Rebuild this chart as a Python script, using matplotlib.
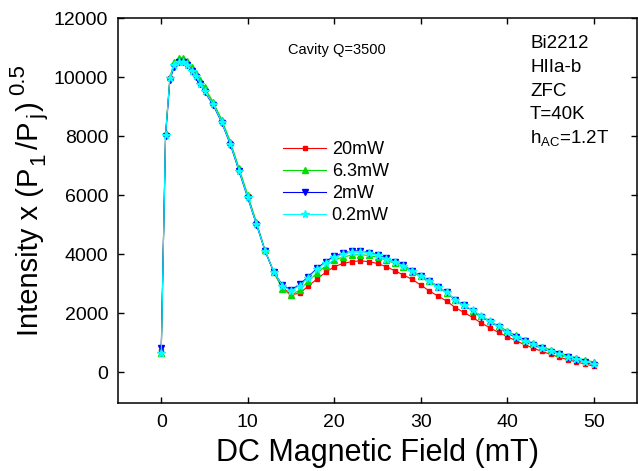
import matplotlib
matplotlib.use('Agg')
import matplotlib.pyplot as plt

plt.rcParams['font.family'] = ['Liberation Sans', 'DejaVu Sans']
plt.rcParams['mathtext.default'] = 'regular'

# field values (mT)
field = [0, 0.5, 1, 1.5, 2, 2.5, 3, 3.5, 4, 4.5, 5] + list(range(6, 51))

# intensity x (P1/Pj)^0.5 for each microwave power
p20 = [700, 8050, 9950, 10400, 10550, 10550, 10450, 10250, 10050, 9800, 9550,
       9100, 8480, 7750, 6850, 5950, 5050, 4120, 3380, 2870, 2620,
       2670, 2915, 3150, 3380, 3570, 3680, 3740, 3770, 3740, 3680, 3570, 3435,
       3290, 3140, 2950, 2745, 2575, 2405,
       2180, 2020, 1850, 1660, 1500, 1340, 1200, 1060, 930, 810, 700, 600,
       500, 420, 340, 270, 200]
p63 = [650, 8100, 10000, 10500, 10650, 10650, 10550, 10350, 10150, 9900, 9650,
       9150, 8550, 7800, 6900, 6000, 5080, 4130, 3390, 2820, 2600,
       2780, 3080, 3350, 3600, 3790, 3900, 3960, 3980, 3950, 3890, 3790, 3680,
       3560, 3400, 3240, 3070, 2880, 2690,
       2430, 2260, 2080, 1900, 1730, 1560, 1390, 1240, 1100, 970, 860, 750,
       650, 560, 480, 410, 340]
p2 = [800, 8000, 9900, 10350, 10500, 10500, 10400, 10200, 10000, 9750, 9500,
      9050, 8450, 7700, 6800, 5900, 5000, 4100, 3400, 2950, 2780,
      2970, 3230, 3515, 3740, 3930, 4020, 4110, 4110, 4045, 3970, 3850, 3740,
      3630, 3425, 3265, 3095, 2890, 2700,
      2440, 2265, 2075, 1880, 1700, 1530, 1320, 1175, 1040, 915, 800, 695,
      595, 500, 410, 330, 250]
p02 = [650, 8050, 9950, 10400, 10520, 10520, 10420, 10220, 10020, 9770, 9520,
       9080, 8470, 7730, 6830, 5930, 5020, 4110, 3400, 2930, 2750,
       2930, 3200, 3480, 3710, 3890, 3990, 4060, 4070, 4020, 3950, 3840, 3730,
       3610, 3420, 3260, 3090, 2890, 2700,
       2440, 2270, 2090, 1890, 1715, 1545, 1340, 1195, 1060, 935, 820, 715,
       615, 520, 435, 355, 280]

labels = ['20mW', '6.3mW', '2mW', '0.2mW']
info_lines = ['Bi2212', 'HIIa-b', 'ZFC', 'T=40K', 'h$_{AC}$=1.2T']

W, H = 638, 471
fig = plt.figure(figsize=(W / 100, H / 100), dpi=100)
ax = fig.add_axes([118 / W, 1 - 403 / H, (637 - 118) / W, (403 - 18) / H])

styles = [('#ff0000', 's', 3.5), ('#00dd00', '^', 4.5),
          ('#0000ff', 'v', 4.5), ('#00ffff', '*', 5.5)]
for ys, lab, (c, m, ms) in zip([p20, p63, p2, p02], labels, styles):
    ax.plot(field, ys, color=c, lw=0.8, marker=m, ms=ms, mec=c, mfc=c,
            label=lab)

ax.set_xlim(-5, 55)
ax.set_ylim(-1050, 12000)
ax.set_xticks(range(0, 51, 10))
ax.set_yticks(range(0, 12001, 2000))
ax.tick_params(direction='in', length=4, width=1, top=True, right=True,
               labelsize=14)
ax.tick_params(axis='x', pad=8)
ax.tick_params(axis='y', pad=7)
for s in ax.spines.values():
    s.set_linewidth(1.1)

ax.set_xlabel('DC Magnetic Field (mT)', fontsize=22, labelpad=5)

# y label built piece by piece: larger sub/superscripts like the original
renderer = fig.canvas.get_renderer()
ylab_parts = [('Intensity x (P', 21, 0, 0), ('1', 16, 6, 3), ('/P', 21, 0, 3),
              ('j', 16, 6, 3), (')', 21, 0, 3), ('0.5', 16, -14, 6)]
base_x = 38
pos = H - 336
for txt, size, shift, gap in ylab_parts:
    t = fig.text((base_x + shift) / W, (pos + gap) / H, txt, fontsize=size,
                 rotation=90, rotation_mode='anchor', ha='left',
                 va='baseline')
    pos = t.get_window_extent(renderer).y1

fig.legend(loc='upper left', bbox_to_anchor=(283 / W, 1 - 141 / H),
           frameon=False, fontsize=13, handlelength=2.4,
           handletextpad=0.3, labelspacing=0.28, borderpad=0,
           borderaxespad=0)

fig.text(337 / W, 1 - 50 / H, 'Cavity Q=3500', fontsize=10.5,
         ha='center', va='center')
for i, t in enumerate(info_lines):
    fig.text(530 / W, 1 - (44 + 23.5 * i) / H, t, fontsize=13.5,
             ha='left', va='center')

fig.savefig('out.png', dpi=100)
